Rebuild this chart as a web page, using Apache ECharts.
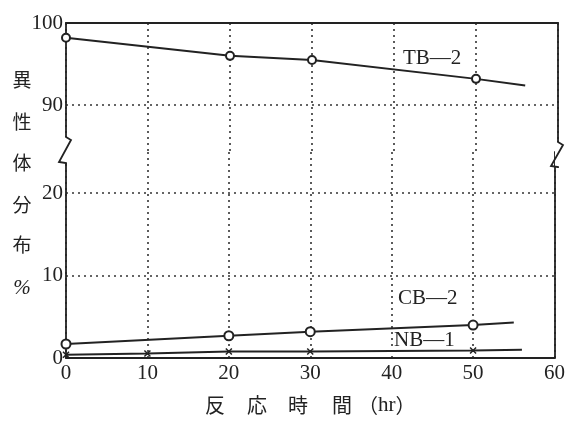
<!DOCTYPE html>
<html><head><meta charset="utf-8">
<script src="https://cdn.jsdelivr.net/npm/echarts@6/dist/echarts.min.js"></script>
<style>html,body{margin:0;padding:0;background:#fff}#c{width:568px;height:421px}</style>
</head><body><div id="c"></div>
<script>
// ---- data ----
const xTicks = [0, 10, 20, 30, 40, 50, 60];
const yTicksTop = [90, 100];
const yTicksBottom = [0, 10, 20];
const tbTimes = [0, 20, 30, 50];
const tbValues = [98.2, 96.0, 95.5, 93.2];
const tbEnd = [56, 92.4];
const cbTimes = [0, 20, 30, 50];
const cbValues = [1.7, 2.7, 3.2, 4.0];
const cbEnd = [55, 4.3];
const nbTimes = [0, 10, 20, 30, 50];
const nbValues = [0.4, 0.55, 0.8, 0.8, 0.9];
const nbEnd = [56, 1.0];
const seriesNames = ['TB—2', 'CB—2', 'NB—1'];
const yTitleChars = ['異', '性', '体', '分', '布', '%'];
const xTitleChars = ['反', '応', '時', '間'];

// ---- chart ----
const INK = '#222';
const GRIDC = '#333';
const SERIF = '"Liberation Serif", "DejaVu Serif", serif';
const CJK = '"Noto Sans CJK JP", sans-serif';

function pts(ts, vs, end) {
  return ts.map((t, i) => [t, vs[i]]).concat([{ value: end, symbol: 'none' }]);
}
const dotted = { color: GRIDC, width: 1.6, type: [2, 4] };
const axisLineStyle = { color: INK, width: 1.8 };

const chart = echarts.init(document.getElementById('c'), null, { renderer: 'canvas' });

const graphics = [];
// y-axis title (vertical)
const yCenters = [80, 122, 163, 205, 245, 288];
yTitleChars.forEach((ch, i) => {
  graphics.push({
    type: 'text', left: null, x: 22, y: yCenters[i], z: 100,
    style: {
      text: ch, x: 0, y: 0, align: 'center', verticalAlign: 'middle',
      font: (ch === '%' ? 'italic 21px ' + SERIF : '19px ' + CJK), fill: INK
    }
  });
});
// x-axis title
const xCenters = [215, 257, 298, 342];
xTitleChars.forEach((ch, i) => {
  graphics.push({
    type: 'text', x: xCenters[i], y: 405, z: 100,
    style: { text: ch, align: 'center', verticalAlign: 'middle', font: '20px ' + CJK, fill: INK }
  });
});
graphics.push({
  type: 'text', x: 358, y: 405, z: 100,
  style: {
    text: '（{s|hr}）', align: 'left', verticalAlign: 'middle', font: '20px ' + CJK, fill: INK,
    rich: { s: { font: '21px ' + SERIF, fill: INK } }
  }
});
// series labels
graphics.push({ type: 'text', x: 403, y: 58, z: 100,
  style: { text: seriesNames[0], align: 'left', verticalAlign: 'middle', font: '21px ' + SERIF, fill: INK } });
graphics.push({ type: 'text', x: 398, y: 298, z: 100,
  style: { text: seriesNames[1], align: 'left', verticalAlign: 'middle', font: '21px ' + SERIF, fill: INK } });
graphics.push({ type: 'text', x: 394, y: 340, z: 100,
  style: { text: seriesNames[2], align: 'left', verticalAlign: 'middle', font: '21px ' + SERIF, fill: INK } });
// axis break zigzags
function zig(x, y0, y1) {
  graphics.push({ type: 'rect', z: 100, shape: { x: x - 3, y: y0, width: 6, height: y1 - y0 }, style: { fill: '#fff' } });
  graphics.push({ type: 'polyline', z: 101,
    shape: { points: [[x, y0 - 1], [x, y0], [x + 5, y0 + 3], [x - 7, y1 - 1], [x, y1], [x, y1 + 1]] },
    style: { stroke: INK, lineWidth: 1.8, fill: null } });
}
zig(66, 137, 163);
zig(558, 142, 167);

const option = {
  animation: false,
  backgroundColor: '#fff',
  grid: [
    { left: 66, right: 10, top: 23, height: 129 },
    { left: 66, right: 10, top: 152, height: 206 }
  ],
  xAxis: [
    { type: 'value', gridIndex: 0, position: 'top', min: 0, max: 60, interval: 10,
      axisLine: { show: true, onZero: false, lineStyle: axisLineStyle },
      axisTick: { show: false }, axisLabel: { show: false }, splitLine: { show: true, lineStyle: dotted } },
    { type: 'value', gridIndex: 1, position: 'bottom', min: 0, max: 60, interval: 10,
      axisLine: { show: true, onZero: false, lineStyle: axisLineStyle },
      axisTick: { show: false },
      axisLabel: { show: true, margin: 5, fontFamily: SERIF, fontSize: 21, color: INK,
        customValues: xTicks },
      splitLine: { show: true, lineStyle: dotted } }
  ],
  yAxis: [
    { type: 'value', gridIndex: 0, position: 'left', min: 84.3, max: 100,
      axisLine: { show: true, onZero: false, lineStyle: axisLineStyle },
      axisTick: { show: false, customValues: yTicksTop },
      axisLabel: { show: true, margin: 3, fontFamily: SERIF, fontSize: 21, color: INK, customValues: yTicksTop },
      splitLine: { show: true, lineStyle: dotted } },
    { type: 'value', gridIndex: 1, position: 'left', min: 0, max: 25,
      axisLine: { show: true, onZero: false, lineStyle: axisLineStyle },
      axisTick: { show: false, customValues: yTicksBottom },
      axisLabel: { show: true, margin: 3, fontFamily: SERIF, fontSize: 21, color: INK, customValues: yTicksBottom },
      splitLine: { show: true, lineStyle: dotted } },
    { type: 'value', gridIndex: 0, position: 'right', min: 84.3, max: 100,
      axisLine: { show: true, onZero: false, lineStyle: axisLineStyle },
      axisTick: { show: false }, axisLabel: { show: false }, splitLine: { show: false } },
    { type: 'value', gridIndex: 1, position: 'right', min: 0, max: 25,
      axisLine: { show: true, onZero: false, lineStyle: axisLineStyle },
      axisTick: { show: false }, axisLabel: { show: false }, splitLine: { show: false } }
  ],
  series: [
    { name: seriesNames[0], type: 'line', xAxisIndex: 0, yAxisIndex: 0, data: pts(tbTimes, tbValues, tbEnd),
      symbol: 'emptyCircle', symbolSize: 8, lineStyle: { color: INK, width: 2 },
      itemStyle: { color: INK, borderColor: INK, borderWidth: 1.5 }, emphasis: { disabled: true }, z: 5 },
    { name: seriesNames[1], type: 'line', xAxisIndex: 1, yAxisIndex: 1, data: pts(cbTimes, cbValues, cbEnd),
      symbol: 'emptyCircle', symbolSize: 9, lineStyle: { color: INK, width: 2 },
      itemStyle: { color: INK, borderColor: INK, borderWidth: 1.5 }, emphasis: { disabled: true }, z: 5 },
    { name: seriesNames[2], type: 'line', xAxisIndex: 1, yAxisIndex: 1, data: pts(nbTimes, nbValues, nbEnd),
      symbol: 'path://M0,0L10,10M10,0L0,10', symbolSize: 6, lineStyle: { color: INK, width: 2 },
      itemStyle: { color: INK, borderColor: INK, borderWidth: 1.5 }, emphasis: { disabled: true }, z: 5 }
  ],
  graphic: graphics
};
chart.setOption(option);
</script>
</body></html>
